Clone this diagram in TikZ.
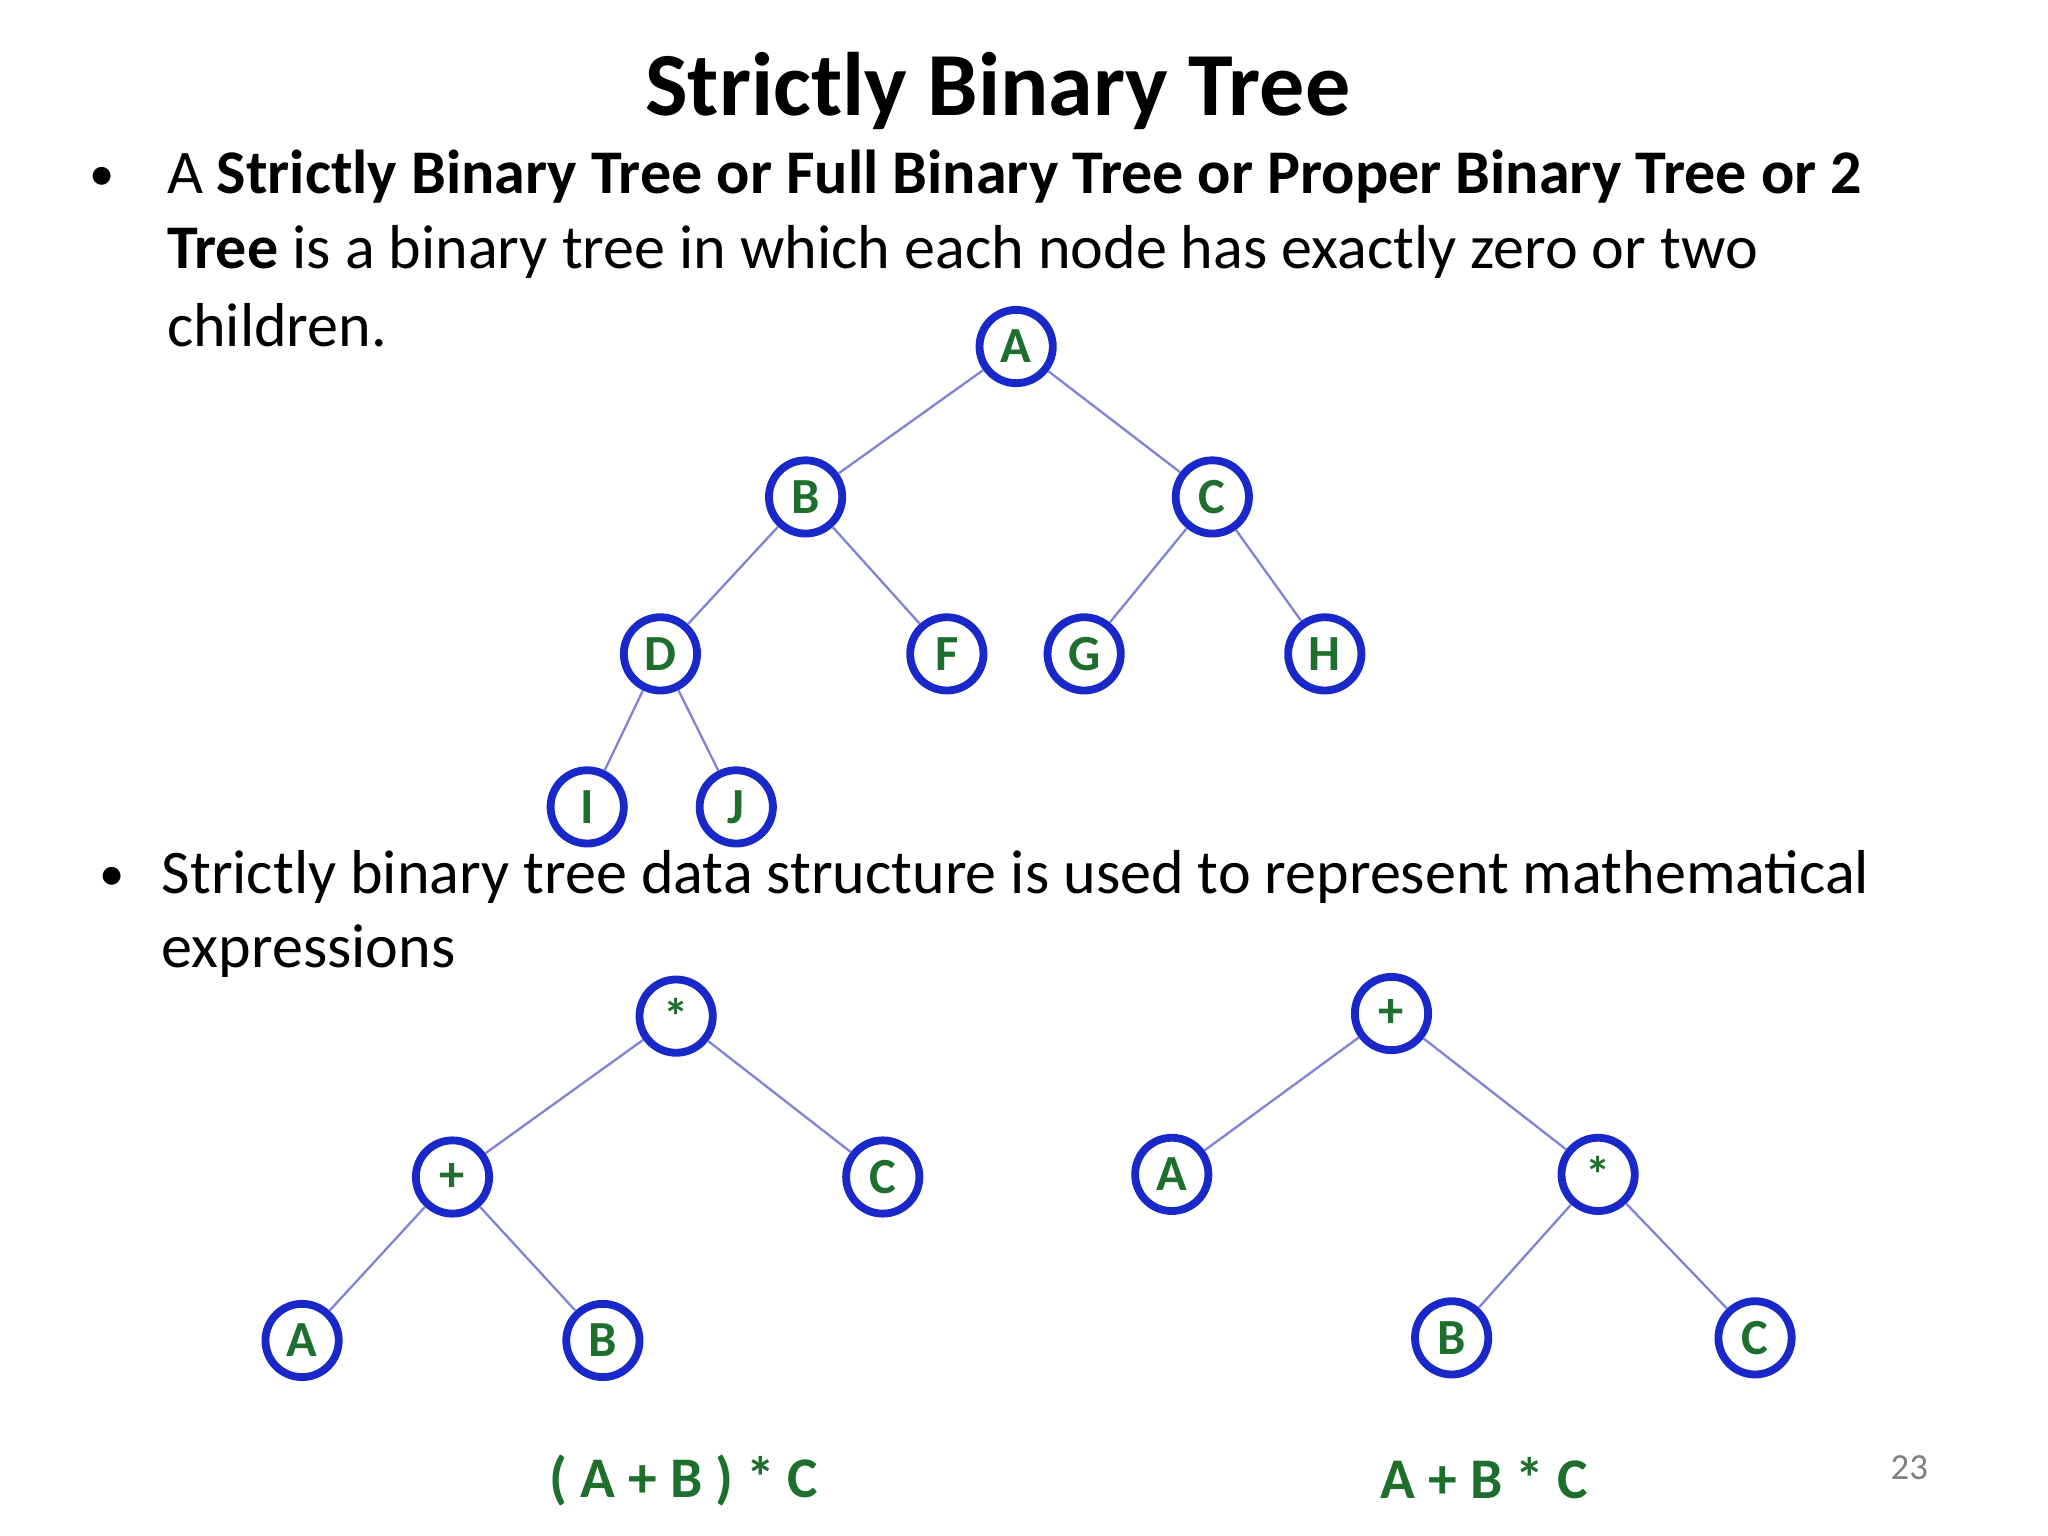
\documentclass[tikz,border=0pt]{standalone}
\usepackage{fontspec}
\setmainfont{Carlito}
\definecolor{nblue}{RGB}{25,40,200}
\definecolor{ngreen}{RGB}{30,110,45}
\definecolor{eblue}{RGB}{130,130,215}
\begin{document}
\begin{tikzpicture}[x=0.01cm,y=-0.01cm,
  tn/.style={circle,draw=nblue,line width=1.7pt,fill=white,minimum size=0.56cm,inner sep=0pt,font=\fontsize{11}{11}\selectfont\bfseries,text=ngreen},
  ed/.style={draw=eblue,line width=0.5pt},
  body/.style={anchor=base west,inner sep=0pt,font=\fontsize{13.5}{16}\selectfont},
  expr/.style={font=\fontsize{12.5}{13}\selectfont\bfseries,text=ngreen}]
\useasboundingbox (0,0) rectangle (1566,1174);
\fill[white] (0,0) rectangle (1566,1174);
\node[anchor=base,inner sep=0pt,font=\fontsize{19.6}{24}\selectfont\bfseries] (title) at (763,88) {Strictly Binary Tree};
\node[body,font=\fontsize{11}{11}\selectfont] (b1) at (68,146) {•};
\node[body] (l1) at (127,148) {A \textbf{Strictly Binary Tree or Full Binary Tree or Proper Binary Tree or 2}};
\node[body] (l2) at (127,205) {\textbf{Tree} is a binary tree in which each node has exactly zero or two};
\node[body] (l3) at (127,265) {children.};
\node[body,font=\fontsize{11}{11}\selectfont] (b2) at (75,681) {•};
\node[body] (m1) at (123,683) {Strictly binary tree data structure is used to represent mathematical};
\node[body] (m2) at (123,740) {expressions};
% tree 1
\node[tn] (A) at (777,265) {A};
\node[tn] (B) at (616,380) {B};
\node[tn] (C) at (927,380) {C};
\node[tn] (D) at (505,500) {D};
\node[tn] (F) at (724,500) {F};
\node[tn] (G) at (829,500) {G};
\node[tn] (H) at (1013,500) {H};
\node[tn] (I) at (449,617) {I};
\node[tn] (J) at (563,617) {J};
\foreach \a/\b in {A/B,A/C,B/D,B/F,C/G,C/H,D/I,D/J} \draw[ed] (\a) -- (\b);
% tree 2
\node[tn] (s1) at (517,777) {*};
\node[tn] (p1) at (346,900) {+};
\node[tn] (c1) at (675,900) {C};
\node[tn] (a1) at (231,1025) {A};
\node[tn] (bb1) at (461,1025) {B};
\foreach \a/\b in {s1/p1,s1/c1,p1/a1,p1/bb1} \draw[ed] (\a) -- (\b);
\node[expr] (e1) at (523,1132) {( A + B ) * C};
% tree 3
\node[tn] (p2) at (1064,775) {+};
\node[tn] (a2) at (896,898) {A};
\node[tn] (s2) at (1222,898) {*};
\node[tn] (bb2) at (1110,1023) {B};
\node[tn] (c2) at (1342,1023) {C};
\foreach \a/\b in {p2/a2,p2/s2,s2/bb2,s2/c2} \draw[ed] (\a) -- (\b);
\node[expr] (e2) at (1135,1130) {A + B * C};
\node[text=gray,font=\fontsize{8}{8}\selectfont] (pg) at (1460,1122) {23};
\end{tikzpicture}
\end{document}
